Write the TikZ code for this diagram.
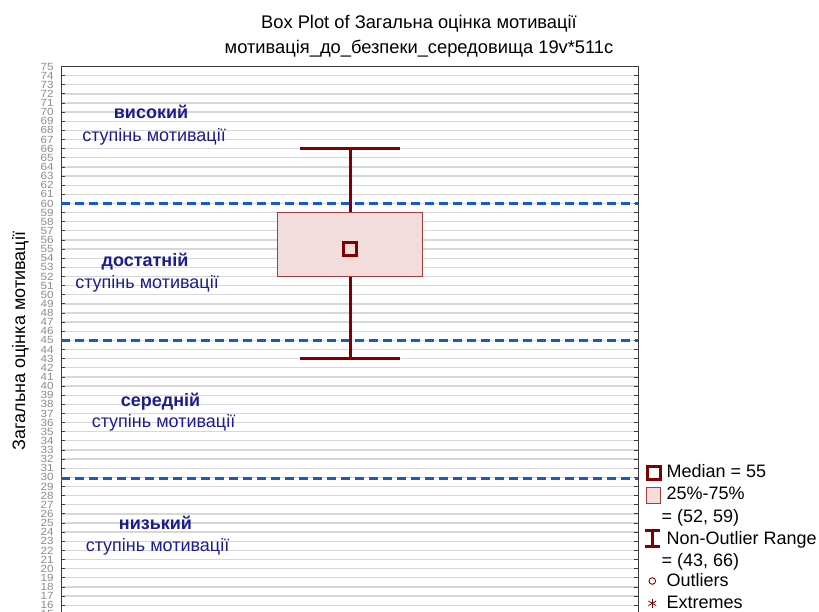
\documentclass[tikz,border=0pt]{standalone}
\usepackage{fontspec}
\setmainfont{Liberation Sans}
\usepackage{tikz}
\usetikzlibrary{positioning,calc}
\definecolor{boxred}{RGB}{128,0,0}
\definecolor{boxfill}{RGB}{242,220,220}
\definecolor{boxedge}{RGB}{165,60,60}
\definecolor{levblue}{RGB}{22,92,200}
\definecolor{levtext}{RGB}{28,28,145}
\definecolor{gridgray}{RGB}{215,215,215}
\definecolor{axisgray}{RGB}{60,60,60}
\definecolor{ticklab}{RGB}{140,140,140}

\begin{document}
\begin{tikzpicture}[x=1pt, y=-1pt, every node/.style={inner sep=0pt, outer sep=0pt}]
\tikzstyle{level}=[levblue, line width=3pt, dash pattern=on 9pt off 5pt]
\tikzstyle{whisker}=[boxred, line width=3pt]
\tikzstyle{lab}=[levtext, anchor=base, font=\fontsize{18}{20}\selectfont]
\tikzstyle{leg}=[anchor=base west, font=\fontsize{18}{20}\selectfont]
\tikzstyle{ticknum}=[ticklab, anchor=east, font=\fontsize{10.4}{10.4}\selectfont]

\useasboundingbox (0,0) rectangle (819,612);
\fill[white] (0,0) rectangle (819,612);

% value scale: row = 751.25 - 9.13 v
\begin{scope}[y=9.13pt, shift={(0pt,-751.25pt)}]
\foreach \v in {15,...,75}{
  \draw[gridgray, line width=1.3pt] (61,\v) -- (638,\v);
  \draw[axisgray, line width=0.8pt] (61,\v) -- (65,\v) (638,\v) -- (634,\v);
  \node[ticknum] (tick\v) at (53.5,\v) {\scalebox{1.12}[1]{\v}};
}
\draw[axisgray, line width=1pt] (61,14) -- (61,75) -- (638,75) -- (638,14);

\draw[level] (61,60) -- (638,60);
\draw[level] (61,45) -- (638,45);
\draw[level] (61,29.9) -- (638,29.9);

\draw[whisker] (300,66) -- (400,66) (350,66) -- (350,43) (300,43) -- (400,43);
\draw[boxedge, fill=boxfill, line width=1pt] (277.3,52) rectangle (422.3,59);
\node[draw=boxred, line width=3pt, minimum size=13pt] (median) at (350,55) {};
\end{scope}

\node[anchor=base, font=\fontsize{18.3}{20}\selectfont] (title) at (419,28.7) {Box Plot of Загальна оцінка мотивації};
\node[anchor=base, font=\fontsize{18.3}{20}\selectfont] (subtitle) at (419,53.3) {мотивація\_до\_безпеки\_середовища 19v*511c};
\node[anchor=base, rotate=90, font=\fontsize{18}{20}\selectfont] (ylabel) at (25,341) {Загальна оцінка мотивації};

\node[lab, font=\fontsize{18}{20}\bfseries] (high) at (151,119) {високий};
\node[lab] (high2) at (154,141.7) {ступінь мотивації};
\node[lab, font=\fontsize{18}{20}\bfseries] (enough) at (145,266.7) {достатній};
\node[lab] (enough2) at (147,288) {ступінь мотивації};
\node[lab, font=\fontsize{18}{20}\bfseries] (mid) at (160.5,406) {середній};
\node[lab] (mid2) at (163.5,427) {ступінь мотивації};
\node[lab, font=\fontsize{18}{20}\bfseries] (low) at (155.5,529.3) {низький};
\node[lab] (low2) at (157.5,551.7) {ступінь мотивації};

% legend
\node[draw=boxred, line width=3pt, minimum size=13pt] (legmed) at (653.5,473) {};
\draw[boxedge, fill=boxfill, line width=1pt] (646,487) rectangle (660,503);
\draw[whisker] (645,530.5) -- (660,530.5) (652.5,530.5) -- (652.5,546.5) (645,546.5) -- (660,546.5);
\draw[boxred, line width=0.9pt] (652.3,581) circle (3.3);
\foreach \a in {90,30,150}
  \draw[boxred, line width=0.8pt] (652.3,603.3) ++(\a:4.5) -- ++(\a+180:9);
\node[leg] (legmedt) at (666.7,477.7) {Median = 55};
\node[leg] (legbox) at (666.7,499.3) {25\%-75\%};
\node[leg] (legbox2) at (661.7,522.7) {= (52, 59)};
\node[leg] (legrng) at (666.7,544) {Non-Outlier Range};
\node[leg] (legrng2) at (661.7,566.7) {= (43, 66)};
\node[leg] (legout) at (666.7,586.7) {Outliers};
\node[leg] (legext) at (666.7,608.3) {Extremes};
\end{tikzpicture}
\end{document}
